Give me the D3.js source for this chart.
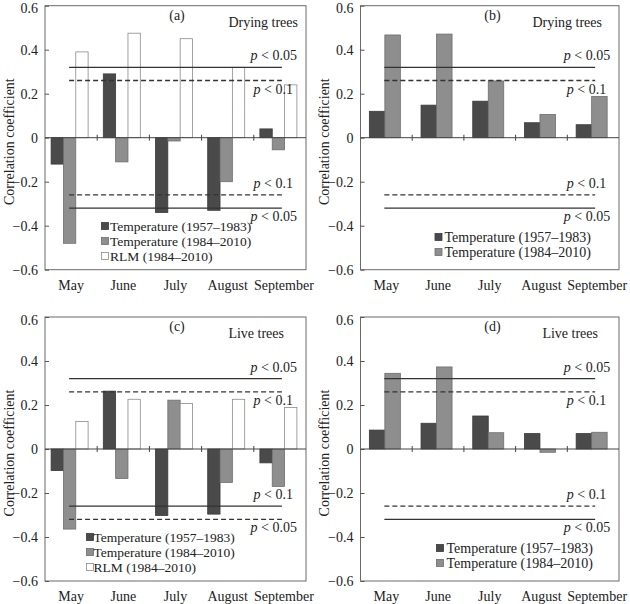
<!DOCTYPE html>
<html>
<head>
<meta charset="utf-8">
<script src="https://cdn.jsdelivr.net/npm/d3@7"></script>
<style>
  html, body { margin: 0; padding: 0; background: #fff; }
  svg { display: block; }
  text { font-family: "Liberation Serif", "DejaVu Serif", serif; fill: #222; }
</style>
</head>
<body>
<svg id="chart" width="630" height="604"></svg>
<script>
// ---------- data ----------
const months = ["May", "June", "July", "August", "September"];
const yTicks = [-0.6, -0.4, -0.2, 0, 0.2, 0.4, 0.6];

// (a) drying trees, three series
const dryTempEarlyA = [-0.12, 0.29, -0.34, -0.33, 0.04];
const dryTempLateA  = [-0.48, -0.11, -0.015, -0.20, -0.055];
const dryRLM        = [0.39, 0.475, 0.45, 0.32, 0.24];
// (b) drying trees, two series
const dryTempEarlyB = [0.12, 0.148, 0.166, 0.068, 0.059];
const dryTempLateB  = [0.467, 0.471, 0.258, 0.106, 0.187];
// (c) live trees, three series
const liveTempEarlyC = [-0.098, 0.263, -0.302, -0.296, -0.063];
const liveTempLateC  = [-0.364, -0.134, 0.222, -0.152, -0.17];
const liveRLM        = [0.125, 0.226, 0.207, 0.226, 0.189];
// (d) live trees, two series
const liveTempEarlyD = [0.086, 0.117, 0.15, 0.07, 0.07];
const liveTempLateD  = [0.344, 0.373, 0.074, -0.015, 0.076];

const seriesNames = ["Temperature (1957–1983)", "Temperature (1984–2010)", "RLM (1984–2010)"];
// significance levels: value, label, line style per panel group
const sigValues = [0.32, 0.26, -0.26, -0.32];
const sigLabels = ["0.05", "0.1", "0.1", "0.05"];
const sigDashedStd = [false, true, true, false];   // panels a, b, d
const sigDashedC   = [false, true, false, true];   // panel c

// ---------- styles ----------
const fills = ["#4a4a4a", "#8e8e8e", "#ffffff"];
const strokes = ["#3a3a3a", "#6e6e6e", "#8a8a8a"];
const FS = "14px";

const svg = d3.select("#chart");
const fmt = v => v === 0 ? "0" : d3.format(".1f")(v);

function drawPanel(p) {
  const g = svg.append("g");
  const x = d3.scaleBand().domain(months).range([p.x0, p.x1]);
  const y = d3.scaleLinear().domain([-0.6, 0.6]).range([p.yBottom, p.yTop]);
  const nSeries = p.series.length;
  const groupW = nSeries === 3 ? 37 : 31;
  const x1 = d3.scaleBand().domain(d3.range(nSeries)).range([0, groupW]);
  const groupOffset = -1.5;

  // frame
  g.append("rect")
    .attr("x", p.x0).attr("y", p.yTop)
    .attr("width", p.x1 - p.x0).attr("height", p.yBottom - p.yTop)
    .attr("fill", "none").attr("stroke", "#6a6a6a").attr("stroke-width", 1);

  // y axis
  const ya = g.append("g").attr("transform", `translate(${p.x0},0)`)
    .call(d3.axisLeft(y).tickValues(yTicks).tickFormat(fmt).tickSizeInner(-4).tickSizeOuter(0).tickPadding(7));
  ya.select(".domain").remove();
  ya.selectAll(".tick line").attr("stroke", "#555");
  ya.selectAll("text").style("font-family", "Liberation Serif").style("font-size", FS).attr("fill", "#222")
    .attr("dy", d => d === 0.6 ? "0.5em" : "0.32em");

  // y title
  g.append("text")
    .attr("transform", `translate(${p.x0 - 36},${(p.yTop + p.yBottom) / 2 + 4}) rotate(-90)`)
    .attr("text-anchor", "middle").attr("dominant-baseline", "central")
    .style("font-size", FS).text("Correlation coefficient");

  // bars
  p.series.forEach((vals, si) => {
    g.append("g").selectAll("rect").data(vals).join("rect")
      .attr("x", (d, i) => x(months[i]) + x.bandwidth() / 2 - groupW / 2 + groupOffset + x1(si))
      .attr("width", x1.bandwidth())
      .attr("y", d => y(Math.max(0, d)))
      .attr("height", d => Math.abs(y(d) - y(0)))
      .attr("fill", fills[si]).attr("stroke", strokes[si]).attr("stroke-width", 0.8);
  });

  // zero line
  g.append("line")
    .attr("x1", p.x0).attr("x2", p.x1).attr("y1", y(0)).attr("y2", y(0))
    .attr("stroke", "#444").attr("stroke-width", 1);
  // category separators on zero line
  g.append("g").selectAll("line").data(months.slice(1)).join("line")
    .attr("x1", d => x(d)).attr("x2", d => x(d))
    .attr("y1", y(0) - 3).attr("y2", y(0) + 3)
    .attr("stroke", "#444").attr("stroke-width", 1);

  // month labels
  g.append("g").selectAll("text").data(months).join("text")
    .attr("x", (d, i) => x(d) + x.bandwidth() / 2 + (i === months.length - 1 ? 4 : 0))
    .attr("y", p.yBottom + 20)
    .attr("text-anchor", "middle").style("font-size", FS)
    .text(d => d);

  // significance lines
  const lx0 = x(months[0]) + x.bandwidth() / 2 - 2;
  const lx1 = x(months[months.length - 1]) + x.bandwidth() / 2 + 2;
  sigValues.forEach((v, i) => {
    g.append("line")
      .attr("x1", lx0).attr("x2", lx1).attr("y1", y(v)).attr("y2", y(v))
      .attr("stroke", "#333").attr("stroke-width", 1.3)
      .attr("stroke-dasharray", p.dashed[i] ? "5,3" : null);
    const outer = Math.abs(v) > 0.3;
    const above = (v > 0) === outer;
    const t = g.append("text")
      .attr("x", lx1 + (outer ? 15 : 11))
      .attr("y", y(v) + (above ? -7 : 13))
      .attr("text-anchor", "end").style("font-size", FS);
    t.append("tspan").style("font-style", "italic").text("p");
    t.append("tspan").text(" < " + sigLabels[i]);
  });

  // panel label & title
  g.append("text").attr("x", p.x0 + 132).attr("y", p.yTop + 14)
    .attr("text-anchor", "middle").style("font-size", FS).text(p.tag);
  g.append("text").attr("x", p.titleRight).attr("y", p.yTop + 21)
    .attr("text-anchor", "end").style("font-size", FS).text(p.title);

  // legend
  const lg = g.append("g");
  p.series.forEach((vals, si) => {
    const ly = p.legendY + si * 15;
    lg.append("rect")
      .attr("x", p.legendX).attr("y", ly - 3.5).attr("width", 7).attr("height", 7)
      .attr("fill", fills[si]).attr("stroke", strokes[si]).attr("stroke-width", 0.8);
    lg.append("text").attr("x", p.legendX + p.legendGap).attr("y", ly)
      .attr("dominant-baseline", "central").style("font-size", p.legendFS)
      .text(seriesNames[si]);
  });
}

drawPanel({
  x0: 45, x1: 306, yTop: 5.7, yBottom: 269.7, tag: "(a)", title: "Drying trees", titleRight: 298,
  series: [dryTempEarlyA, dryTempLateA, dryRLM], dashed: sigDashedStd,
  legendX: 101.5, legendGap: 8.5, legendY: 226, legendFS: "13.5px"
});
drawPanel({
  x0: 360.5, x1: 619, yTop: 5.7, yBottom: 269.7, tag: "(b)", title: "Drying trees", titleRight: 602,
  series: [dryTempEarlyB, dryTempLateB], dashed: sigDashedStd,
  legendX: 435, legendGap: 9.5, legendY: 237, legendFS: "14px"
});
drawPanel({
  x0: 45, x1: 306, yTop: 317, yBottom: 581, tag: "(c)", title: "Live trees", titleRight: 284,
  series: [liveTempEarlyC, liveTempLateC, liveRLM], dashed: sigDashedC,
  legendX: 86.5, legendGap: 7, legendY: 537, legendFS: "13.5px"
});
drawPanel({
  x0: 360.5, x1: 619, yTop: 317, yBottom: 581, tag: "(d)", title: "Live trees", titleRight: 598,
  series: [liveTempEarlyD, liveTempLateD], dashed: sigDashedStd,
  legendX: 436.5, legendGap: 10, legendY: 548, legendFS: "14px"
});
</script>
</body>
</html>
